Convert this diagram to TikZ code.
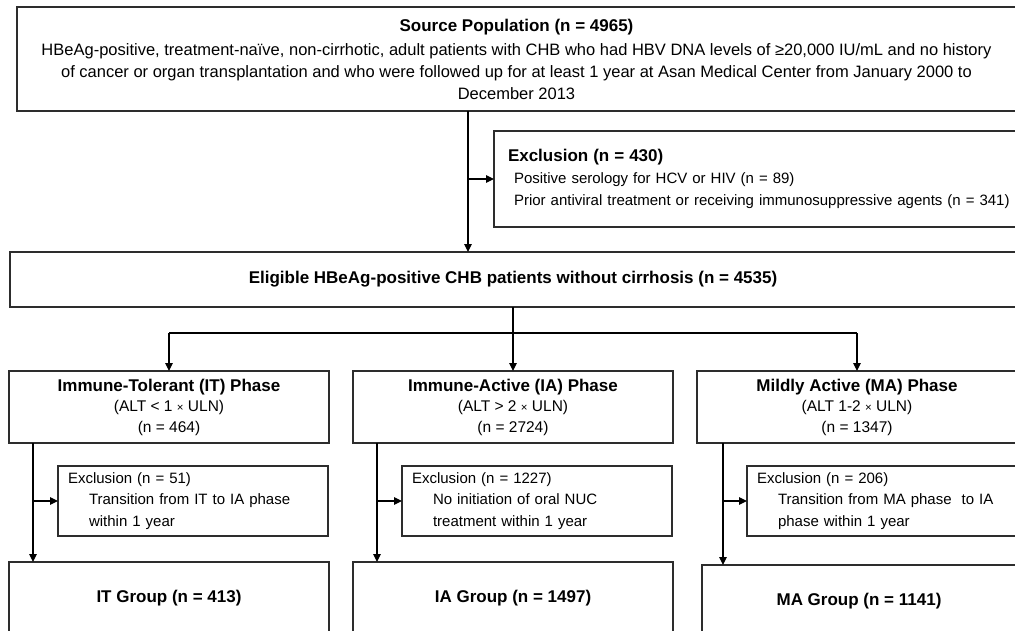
\documentclass[tikz,border=0pt]{standalone}
\usepackage{fontspec}
\setmainfont{Liberation Sans}
\usetikzlibrary{arrows.meta, positioning, calc}
\definecolor{boxgray}{RGB}{45,45,45}
\newcommand{\titlefont}{\fontsize{17}{22}\selectfont\bfseries}
\newcommand{\timessign}{{\fontsize{11.5}{20.5}\selectfont ×}}

\begin{document}
\begin{tikzpicture}[x=1pt, y=-1pt,
			box/.style={rectangle, draw=boxgray, line width=1.2pt, inner sep=0pt, outer sep=0pt, align=center, anchor=north west, font=\fontsize{16.5}{22}\selectfont},
			phase/.style={box, minimum width=320pt, minimum height=72pt, font=\fontsize{15.5}{20.5}\selectfont},
			exclbox/.style={rectangle, draw=boxgray, line width=1.2pt, inner xsep=10pt, inner ysep=0pt, outer sep=0pt, text width=250pt, minimum height=70pt, align=left, anchor=north west, font=\fontsize{15}{21.5}\selectfont},
			arrow/.style={-{Triangle[length=8pt, width=7.5pt]}, line width=1.1pt},
			link/.style={line width=1.1pt}
		]
		\useasboundingbox (0,0) rectangle (1015,630);
		\node[box, minimum width=999pt, minimum height=104pt] (src) at (17,7) {{\titlefont Source Population (n = 4965)}\\[2pt]
			HBeAg-positive, treatment-naïve, non-cirrhotic, adult patients with CHB who had HBV DNA levels of ≥20,000 IU/mL and no history\\
			of cancer or organ transplantation and who were followed up for at least 1 year at Asan Medical Center from January 2000 to\\
			December 2013};
		\node[box, inner xsep=14pt, text width=510pt, align=left, minimum height=96pt, font=\fontsize{15}{22}\selectfont] (excl) at (494,131) {{\titlefont Exclusion (n = 430)}\\
			\hspace*{6pt}Positive serology for HCV or HIV (n = 89)\\
			\hspace*{6pt}Prior antiviral treatment or receiving immunosuppressive agents (n = 341)};
		\node[box, minimum width=1006pt, minimum height=55pt, font=\titlefont] (elig) at (10,252) {Eligible HBeAg-positive CHB patients without cirrhosis (n = 4535)};
		
		\node[phase] (itphase) at (9,371) {{\titlefont Immune-Tolerant (IT) Phase}\\(ALT < 1 \timessign{} ULN)\\(n = 464)};
		\node[phase] (iaphase) at (353,371) {{\titlefont Immune-Active (IA) Phase}\\(ALT > 2 \timessign{} ULN)\\(n = 2724)};
		\node[phase] (maphase) at (697,371) {{\titlefont Mildly Active (MA) Phase}\\(ALT 1-2 \timessign{} ULN)\\(n = 1347)};
		
		\node[exclbox] (itexcl) at (58,466) {Exclusion (n = 51)\\\hspace*{21pt}Transition from IT to IA phase\\\hspace*{21pt}within 1 year};
		\node[exclbox] (iaexcl) at (402,466) {Exclusion (n = 1227)\\\hspace*{21pt}No initiation of oral NUC\\\hspace*{21pt}treatment within 1 year};
		\node[exclbox] (maexcl) at (747,466) {Exclusion (n = 206)\\\hspace*{21pt}Transition from MA phase \ to IA\\\hspace*{21pt}phase within 1 year};
		
		\node[phase, font=\titlefont] (itgroup) at (9,562) {IT Group (n = 413)};
		\node[phase, font=\titlefont] (iagroup) at (353,562) {IA Group (n = 1497)};
		\node[phase, font=\titlefont, minimum width=314pt] (magroup) at (702,565) {MA Group (n = 1141)};
		
		% source to eligible, with exclusion
		\coordinate (srcout) at (468,111);
		\draw[arrow] (srcout) -- (srcout |- elig.north);
		\draw[arrow] (srcout |- excl.west) -- (excl.west);
		
		% split into the three phases
		\coordinate (split) at ($(elig.south)+(0,26)$);
		\draw[link] (elig.south) -- (split);
		\draw[link] (split -| itphase.north) -- (split -| maphase.north);
		\draw[arrow] (split -| itphase.north) -- (itphase.north);
		\draw[arrow] (split -| iaphase.north) -- (iaphase.north);
		\draw[arrow] (split -| maphase.north) -- (maphase.north);
		
		% phases to groups
		\coordinate (itout) at ($(itphase.south west)+(24,0)$);
		\coordinate (iaout) at ($(iaphase.south west)+(24,0)$);
		\coordinate (maout) at ($(maphase.south west)+(26,0)$);
		\draw[arrow] (itout) -- (itout |- itgroup.north);
		\draw[arrow] (iaout) -- (iaout |- iagroup.north);
		\draw[arrow] (maout) -- (maout |- magroup.north);
		\draw[arrow] (itout |- itexcl.west) -- (itexcl.west);
		\draw[arrow] (iaout |- iaexcl.west) -- (iaexcl.west);
		\draw[arrow] (maout |- maexcl.west) -- (maexcl.west);
\end{tikzpicture}
\end{document}
